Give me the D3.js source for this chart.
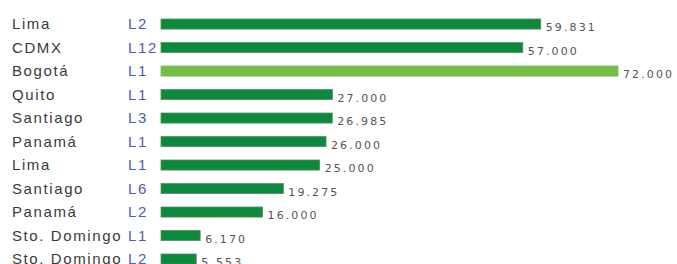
<!DOCTYPE html>
<html lang="es">
<head>
  <meta charset="UTF-8">
  <title>Líneas</title>
  <script src="https://cdn.jsdelivr.net/npm/d3@7"></script>
  <style>
    body { margin: 0; background: #fff; overflow: hidden; }
    .city { font-family: "Liberation Sans", Arial, sans-serif; font-size: 15px; fill: #3a3a3a; letter-spacing: 1.6px; }
    .line { font-family: "Liberation Sans", Arial, sans-serif; font-size: 15px; fill: #4f5bb0; letter-spacing: 1.6px; }
    .val { font-family: "DejaVu Sans", Verdana, sans-serif; font-size: 11px; fill: #555; letter-spacing: 2.1px; }
  </style>
</head>
<body>
<script>
  const cities = ['Lima', 'CDMX', 'Bogotá', 'Quito', 'Santiago', 'Panamá', 'Lima', 'Santiago', 'Panamá', 'Sto. Domingo', 'Sto. Domingo'];
  const lines = ['L2', 'L12', 'L1', 'L1', 'L3', 'L1', 'L1', 'L6', 'L2', 'L1', 'L2'];
  const values = [59831, 57000, 72000, 27000, 26985, 26000, 25000, 19275, 16000, 6170, 5553];
  const highlight = 'Bogotá';

  const w = 677, h = 264;
  const svg = d3.select('body').append('svg')
    .attr('width', w)
    .attr('height', h);

  const rows = values.map((v, i) => ({ city: cities[i], line: lines[i], value: v }));

  const x = d3.scaleLinear()
    .domain([0, d3.max(values)])
    .range([161, 618]);
  // rows 23.5px apart, first one centred at y=24; the last row is cut by the bottom edge like the original
  const y = d3.scaleBand()
    .domain(d3.range(rows.length))
    .range([19, 264.1])
    .paddingInner(0.57);

  const fmt = d3.formatLocale({ decimal: ',', thousands: '.', grouping: [3], currency: ['', ''] }).format(',');

  const g = svg.selectAll('g.row')
    .data(rows)
    .enter()
    .append('g')
    .attr('class', 'row');

  g.append('rect')
    .attr('x', x(0))
    .attr('y', (d, i) => y(i))
    .attr('width', d => x(d.value) - x(0))
    .attr('height', y.bandwidth())
    .attr('fill', d => d.city === highlight ? '#70bf42' : '#0b8a3c')
    .attr('stroke', d => d.city === highlight ? '#8cae7a' : '#5f8a6c')
    .attr('stroke-width', 0.8);

  g.append('text')
    .attr('class', 'city')
    .attr('x', 12)
    .attr('y', (d, i) => y(i) + y.bandwidth() / 2)
    .attr('dy', '0.36em')
    .text(d => d.city);

  g.append('text')
    .attr('class', 'line')
    .attr('x', 128)
    .attr('y', (d, i) => y(i) + y.bandwidth() / 2)
    .attr('dy', '0.36em')
    .text(d => d.line);

  g.append('text')
    .attr('class', 'val')
    .attr('x', d => x(d.value) + 5)
    .attr('y', (d, i) => y(i) + y.bandwidth() / 2 + 3)
    .attr('dy', '0.36em')
    .text(d => fmt(d.value));
</script>
</body>
</html>
